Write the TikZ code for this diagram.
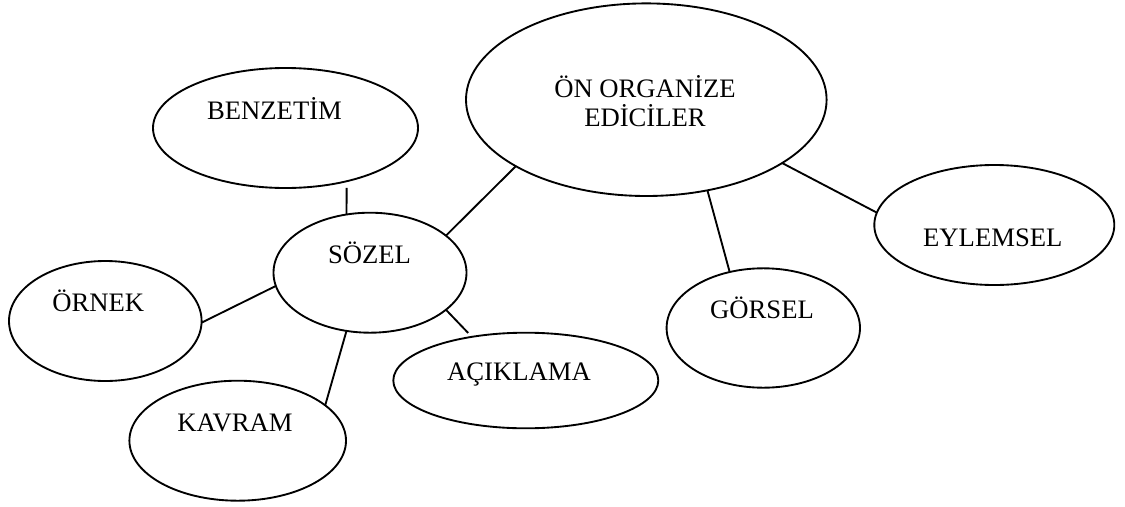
\documentclass[tikz,border=0pt]{standalone}
\usepackage{fontspec}
\setmainfont{Liberation Serif}
\usetikzlibrary{shapes.geometric}

\tikzset{
  bubble/.style n args={2}{ellipse, draw, line width=1.4pt, inner sep=0pt, outer sep=0pt,
    minimum width=#1, minimum height=#2},
  word/.style={anchor=base, inner sep=0pt, font=\fontsize{20}{20.8}\selectfont},
  link/.style={line width=1.4pt}
}

\begin{document}
\begin{tikzpicture}[x=0.75pt, y=-0.75pt]
  \useasboundingbox (0,0) rectangle (1125,507);

  % the ovals (width and height given as 2 x radius)
  \node[bubble={270.45pt}{144.45pt}] (on)   at (646.3, 99.7) {};
  \node[bubble={198.75pt}{90pt}]     (benz) at (285.5,128)   {};
  \node[bubble={144.75pt}{90pt}]     (soz)  at (370,272.7)   {};
  \node[bubble={144.45pt}{90pt}]     (orn)  at (105.3,321)   {};
  \node[bubble={162.45pt}{90pt}]     (kav)  at (237.7,440.7) {};
  \node[bubble={198.75pt}{71.7pt}]   (acik) at (525.8,380.5) {};
  \node[bubble={145.05pt}{89.55pt}]  (gor)  at (763.3,328)   {};
  \node[bubble={180pt}{90pt}]        (eyl)  at (994.3,225)   {};

  % labels (the two-line one sits on the baseline of its last line)
  \node[word, align=center] (on-t) at (645,126.7) {ÖN ORGANİZE\\[1.2pt]EDİCİLER};
  \node[word] (benz-t) at (274.5,119.3) {BENZETİM};
  \node[word] (soz-t)  at (369.5,263.3) {SÖZEL};
  \node[word] (orn-t)  at (98.3,311.7)  {ÖRNEK};
  \node[word] (kav-t)  at (235,431.7)   {KAVRAM};
  \node[word] (acik-t) at (519,380.7)   {AÇIKLAMA};
  \node[word] (gor-t)  at (762,318.3)   {GÖRSEL};
  \node[word] (eyl-t)  at (992.8,246.7) {EYLEMSEL};

  % connectors
  \draw[link, shorten <=5pt] (benz.-41.4) -- (soz.112.4);
  \draw[link] (soz.26.7)   -- (on.-153.6);
  \draw[link] (orn.-1.4)   -- (soz.-172.6);
  \draw[link] (kav.22.8)   -- (soz.-112);
  \draw[link, shorten >=4pt] (soz.-26.4) -- (acik.141.9);
  \draw[link] (on.-56.4)   -- (gor.121.3);
  \draw[link] (on.-25.7)   -- (eyl.174.1);
\end{tikzpicture}
\end{document}
